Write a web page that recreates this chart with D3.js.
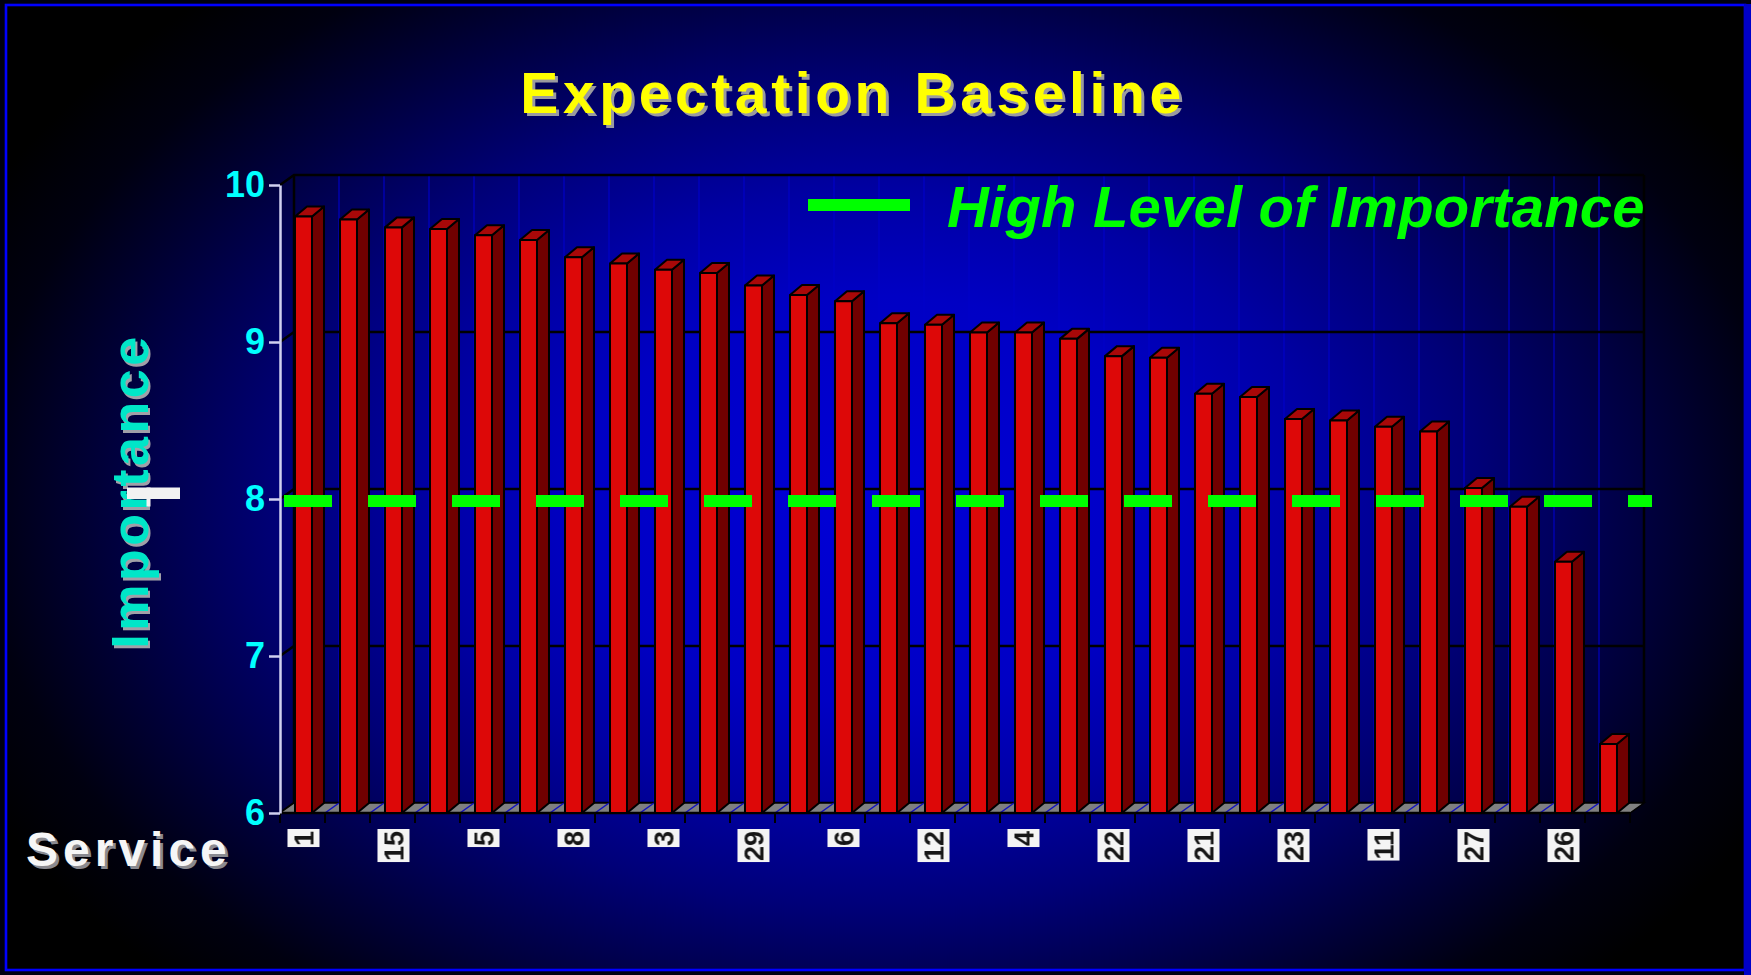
<!DOCTYPE html>
<html>
<head>
<meta charset="utf-8">
<title>Expectation Baseline</title>
<script src="https://cdn.jsdelivr.net/npm/d3@7"></script>
<style>
  html, body { margin: 0; padding: 0; background: #000010; }
  svg { display: block; }
</style>
</head>
<body>
<svg id="chart" width="1751" height="975"></svg>
<script>
// ---- data ----
// Service numbers along the category axis (only every other one is labelled)
const serviceIds = ["1", null, "15", null, "5", null, "8", null, "3", null,
                    "29", null, "6", null, "12", null, "4", null, "22", null,
                    "21", null, "23", null, "11", null, "27", null, "26", null];
// Mean importance score per service
const importance = [9.80, 9.78, 9.73, 9.72, 9.68, 9.65, 9.54, 9.50, 9.46, 9.44,
                    9.36, 9.30, 9.26, 9.12, 9.11, 9.06, 9.06, 9.02, 8.91, 8.90,
                    8.67, 8.65, 8.51, 8.50, 8.46, 8.43, 8.07, 7.95, 7.60, 6.44];
const yTickValues = [6, 7, 8, 9, 10];
const highImportance = 8;
const legendLabel = "High Level of Importance";
const chartTitle = "Expectation Baseline";
const yTitle = "Importance";
const xTitle = "Service";

// ---- layout ----
const W = 1751, H = 975;
const FONT = "'Liberation Sans', Arial, Helvetica, sans-serif";
const svg = d3.select("#chart");
const defs = svg.append("defs");

const x = d3.scaleBand().domain(d3.range(importance.length)).range([280, 1630]);
const y = d3.scaleLinear().domain([6, 10]).range([813, 185]);
const step = x.step();
const [x0, x1] = x.range();
const WDX = 14, WDY = 10;          // depth of the back wall
const BDX = 12, BDY = 10;          // depth of each bar
const faceOff = step * 0.333, faceW = step * 0.378;

// background gradient
const bg = defs.append("radialGradient").attr("id", "bgGrad")
  .attr("gradientUnits", "userSpaceOnUse")
  .attr("cx", 880).attr("cy", 500).attr("r", 1000)
  .attr("gradientTransform", "translate(880,500) scale(1,0.68) translate(-880,-500)");
[[0, "#0000d8"], [0.3, "#0000c4"], [0.45, "#0000a4"], [0.6, "#000078"],
 [0.75, "#000044"], [0.9, "#000010"], [1, "#000000"]]
  .forEach(([o, c]) => bg.append("stop").attr("offset", o).attr("stop-color", c));

const soft = defs.append("filter").attr("id", "soft")
  .attr("x", "-20%").attr("y", "-20%").attr("width", "140%").attr("height", "140%");
soft.append("feGaussianBlur").attr("stdDeviation", 0.7);

svg.append("rect").attr("width", W).attr("height", H).attr("fill", "#000010");
svg.append("rect").attr("x", 6).attr("y", 5).attr("width", 1739).attr("height", 965)
  .attr("fill", "url(#bgGrad)");

const plot = svg.append("g");
const yTop = y(10), yBot = y(6);

// back-wall vertical grid lines at category boundaries
const bounds = d3.range(importance.length + 1).map(i => x0 + i * step);
plot.append("g").selectAll("line").data(bounds.slice(1, -1)).join("line")
  .attr("x1", d => d + WDX).attr("x2", d => d + WDX)
  .attr("y1", yTop - WDY).attr("y2", yBot - WDY)
  .attr("stroke", "#0000c8").attr("stroke-width", 1.5).attr("opacity", 0.75);

// horizontal grid lines on the back wall plus the side connectors
const grid = plot.append("g").attr("stroke", "#000").attr("stroke-width", 2.5).attr("fill", "none");
grid.selectAll("path").data(yTickValues).join("path")
  .attr("d", v => `M${x0},${y(v)}L${x0 + WDX},${y(v) - WDY}L${x1 + WDX},${y(v) - WDY}`);
grid.append("line")
  .attr("x1", x0 + WDX).attr("x2", x0 + WDX).attr("y1", yTop - WDY).attr("y2", yBot - WDY);
grid.append("line")
  .attr("x1", x1 + WDX).attr("x2", x1 + WDX).attr("y1", yTop - WDY).attr("y2", yBot - WDY);

// floor
plot.append("path")
  .attr("d", `M${x0},${yBot}L${x1},${yBot}L${x1 + WDX},${yBot - WDY}L${x0 + WDX},${yBot - WDY}Z`)
  .attr("fill", "#808080").attr("stroke", "#000").attr("stroke-width", 1.5);
plot.append("g").selectAll("line").data(bounds.slice(1, -1)).join("line")
  .attr("x1", d => d).attr("y1", yBot).attr("x2", d => d + WDX).attr("y2", yBot - WDY)
  .attr("stroke", "#1010c0").attr("stroke-width", 1.5);
plot.append("line").attr("x1", x0).attr("x2", x1).attr("y1", yBot).attr("y2", yBot)
  .attr("stroke", "#000").attr("stroke-width", 2.5);

// bars
const bars = plot.append("g").selectAll("g").data(importance).join("g")
  .attr("stroke", "#000").attr("stroke-width", 2).attr("stroke-linejoin", "round");
bars.append("path").attr("fill", "#700000")
  .attr("d", (v, i) => {
    const fx = x(i) + faceOff + faceW, t = y(v);
    return `M${fx},${t}L${fx + BDX},${t - BDY}L${fx + BDX},${yBot - BDY}L${fx},${yBot}Z`;
  });
bars.append("path").attr("fill", "#a80808")
  .attr("d", (v, i) => {
    const fx = x(i) + faceOff, t = y(v);
    return `M${fx},${t}L${fx + BDX},${t - BDY}L${fx + faceW + BDX},${t - BDY}L${fx + faceW},${t}Z`;
  });
bars.append("rect").attr("fill", "#dd0808")
  .attr("x", (v, i) => x(i) + faceOff).attr("width", faceW)
  .attr("y", v => y(v)).attr("height", v => yBot - y(v));

// category tick marks
plot.append("g").selectAll("line").data(bounds).join("line")
  .attr("x1", d => d).attr("x2", d => d).attr("y1", yBot).attr("y2", yBot + 10)
  .attr("stroke", "#000").attr("stroke-width", 2);

// service labels, rotated, on light boxes
const LFS = 27;
const lab = plot.append("g").selectAll("g")
  .data(serviceIds.map((s, i) => ({ s, i })).filter(d => d.s !== null)).join("g")
  .attr("transform", d => `translate(${x(d.i) + faceOff + faceW / 2},829)`);
const boxes = lab.append("rect").attr("x", -16).attr("y", 0).attr("width", 32)
  .attr("fill", "#f4f4f4").attr("filter", "url(#soft)");
const ltxt = lab.append("text")
  .attr("transform", "rotate(-90)")
  .attr("x", -2).attr("y", LFS * 0.36)
  .attr("text-anchor", "end")
  .attr("font-family", FONT).attr("font-weight", "bold").attr("font-size", LFS)
  .attr("fill", "#151515").attr("filter", "url(#soft)")
  .text(d => d.s);
ltxt.each(function (d) { d.len = this.getComputedTextLength(); });
boxes.attr("height", d => d.len + 3);

// value axis
const yAxis = svg.append("g").attr("transform", `translate(${x0},0)`)
  .call(d3.axisLeft(y).tickValues(yTickValues).tickFormat(d3.format("d"))
    .tickSize(11).tickSizeOuter(0).tickPadding(4));
yAxis.select(".domain").attr("stroke", "#d0d0f0").attr("stroke-width", 2.5);
yAxis.selectAll(".tick line").attr("stroke", "#d0d0f0").attr("stroke-width", 2.5);
yAxis.selectAll(".tick text")
  .attr("font-family", FONT).attr("font-weight", "bold").attr("font-size", 36)
  .attr("fill", "#00ffff");

// high-importance reference line
svg.append("line")
  .attr("x1", x0 + 4).attr("x2", x1 + WDX + 8)
  .attr("y1", y(highImportance) + 2).attr("y2", y(highImportance) + 2)
  .attr("stroke", "#00ff00").attr("stroke-width", 12).attr("stroke-dasharray", "48 36");

// legend
svg.append("line").attr("x1", 808).attr("x2", 910).attr("y1", 205).attr("y2", 205)
  .attr("stroke", "#00ff00").attr("stroke-width", 12);
svg.append("text").attr("x", 947).attr("y", 227)
  .attr("font-family", FONT).attr("font-weight", "bold").attr("font-style", "italic")
  .attr("font-size", 58).attr("letter-spacing", 0.2).attr("fill", "#00ff00").text(legendLabel);

// titles with drop shadows
function shadowText(g, opts) {
  const mk = (dx, dy, fill) => g.append("text")
    .attr("transform", `translate(${opts.x + dx},${opts.y + dy})${opts.rot ? " rotate(" + opts.rot + ")" : ""}`)
    .attr("text-anchor", opts.anchor || "start")
    .attr("font-family", FONT).attr("font-weight", "bold")
    .attr("font-size", opts.size).attr("letter-spacing", opts.ls)
    .attr("fill", fill).text(opts.text);
  mk(opts.sdx, opts.sdy, opts.shadow);
  mk(0, 0, opts.fill);
}
shadowText(svg.append("g"), { text: chartTitle, x: 853, y: 112.7, anchor: "middle",
  size: 57, ls: 4.6, fill: "#ffff00", shadow: "#9a9aa0", sdx: 3, sdy: 3 });
shadowText(svg.append("g"), { text: yTitle, x: 148, y: 491, anchor: "middle", rot: -90,
  size: 52, ls: 3.5, fill: "#00e6c8", shadow: "#a0a0a8", sdx: 2, sdy: 3 });
shadowText(svg.append("g"), { text: xTitle, x: 26, y: 865.6,
  size: 48, ls: 5, fill: "#f6f6f6", shadow: "#8a8a90", sdx: 3, sdy: 3 });

// small marker beside the value-axis title
svg.append("rect").attr("x", 127).attr("y", 487.5).attr("width", 53).attr("height", 11.5)
  .attr("fill", "#f2f2f2");
svg.append("rect").attr("x", 146.5).attr("y", 487.5).attr("width", 4).attr("height", 19)
  .attr("fill", "#f2f2f2");

// frame
svg.append("rect").attr("x", 6).attr("y", 5).attr("width", 1739).attr("height", 965)
  .attr("fill", "none").attr("stroke", "#0000ff").attr("stroke-width", 2.6);
svg.append("rect").attr("x", 1744).attr("y", 4).attr("width", 7).attr("height", 971)
  .attr("fill", "#0000c8");
</script>
</body>
</html>
